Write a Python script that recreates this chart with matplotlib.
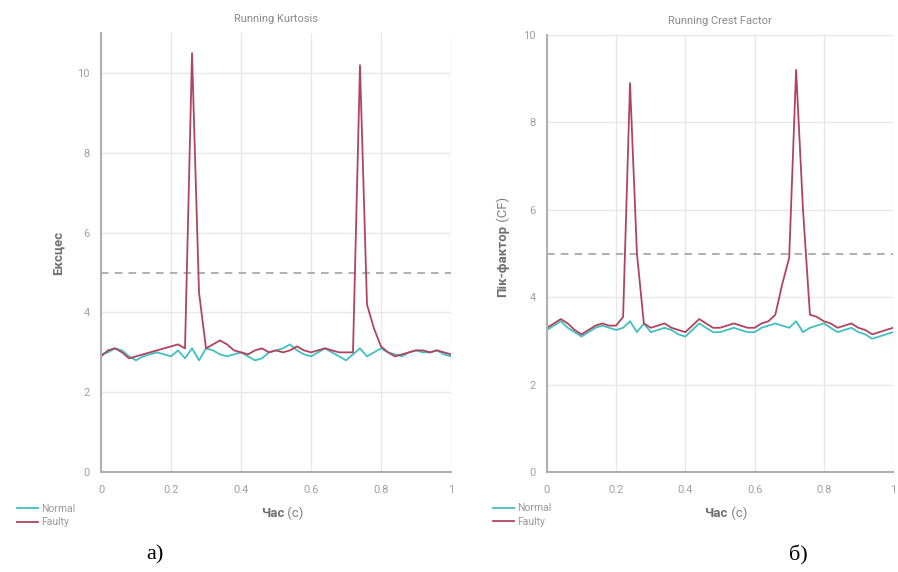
import numpy as np
import matplotlib
matplotlib.use('Agg')
import matplotlib.pyplot as plt

plt.rcParams['font.family'] = ['Roboto', 'DejaVu Sans']

# time axis (s)
t = np.linspace(0, 1, 51)

# Running kurtosis
kurt_normal = [2.95, 3.0, 3.1, 3.05, 2.9, 2.8, 2.9, 2.95, 3.0, 2.95,
               2.9, 3.05, 2.85, 3.1, 2.8, 3.1, 3.05, 2.95, 2.9, 2.95,
               3.0, 2.9, 2.8, 2.85, 3.0, 3.05, 3.1, 3.2, 3.05, 2.95,
               2.9, 3.0, 3.1, 3.0, 2.9, 2.8, 2.95, 3.1, 2.9, 3.0,
               3.1, 3.0, 2.95, 2.9, 3.0, 3.05, 3.0, 3.0, 3.05, 2.95,
               2.9]
kurt_faulty = [2.9, 3.05, 3.1, 3.0, 2.85, 2.9, 2.95, 3.0, 3.05, 3.1,
               3.15, 3.2, 3.1, 10.5, 4.5, 3.1, 3.2, 3.3, 3.2, 3.05,
               3.0, 2.95, 3.05, 3.1, 3.0, 3.05, 3.0, 3.05, 3.15, 3.05,
               3.0, 3.05, 3.1, 3.05, 3.0, 3.0, 3.0, 10.2, 4.2, 3.6,
               3.15, 3.0, 2.9, 2.95, 3.0, 3.05, 3.05, 3.0, 3.05, 3.0,
               2.95]

# Running crest factor
cf_normal = [3.25, 3.35, 3.45, 3.3, 3.2, 3.1, 3.2, 3.3, 3.35, 3.3,
             3.25, 3.3, 3.45, 3.2, 3.4, 3.2, 3.25, 3.3, 3.25, 3.15,
             3.1, 3.25, 3.4, 3.3, 3.2, 3.2, 3.25, 3.3, 3.25, 3.2,
             3.2, 3.3, 3.35, 3.4, 3.35, 3.3, 3.45, 3.2, 3.3, 3.35,
             3.4, 3.3, 3.2, 3.25, 3.3, 3.2, 3.15, 3.05, 3.1, 3.15,
             3.2]
cf_faulty = [3.3, 3.4, 3.5, 3.4, 3.25, 3.15, 3.25, 3.35, 3.4, 3.35,
             3.35, 3.55, 8.9, 5.0, 3.4, 3.3, 3.35, 3.4, 3.3, 3.25,
             3.2, 3.35, 3.5, 3.4, 3.3, 3.3, 3.35, 3.4, 3.35, 3.3,
             3.3, 3.4, 3.45, 3.6, 4.3, 4.9, 9.2, 6.0, 3.6, 3.55,
             3.45, 3.4, 3.3, 3.35, 3.4, 3.3, 3.25, 3.15, 3.2, 3.25,
             3.3]

threshold = 5
c_normal = '#40c0c2'
c_faulty = '#b0445e'

fig = plt.figure(figsize=(8.98, 5.72), dpi=100)
ax1 = fig.add_axes([0.1125, 0.1748, 0.3897, 0.767])
ax2 = fig.add_axes([0.6091, 0.1748, 0.3853, 0.764])


def style(ax, ymax, title):
    ax.set_xlim(0, 1)
    ax.set_ylim(0, ymax)
    ax.set_xticks([0, 0.2, 0.4, 0.6, 0.8, 1])
    ax.set_xticklabels(['0', '0.2', '0.4', '0.6', '0.8', '1'])
    ax.set_yticks([0, 2, 4, 6, 8, 10])
    ax.grid(True, color='#e8e8e8', linewidth=1)
    ax.set_axisbelow(True)
    for s in ['top', 'right']:
        ax.spines[s].set_visible(False)
    for s in ['left', 'bottom']:
        ax.spines[s].set_color('#b0b0b0')
        ax.spines[s].set_linewidth(1.5)
    ax.tick_params(length=0, labelsize=8, colors='#a0a0a0')
    ax.tick_params(axis='x', pad=9)
    ax.tick_params(axis='y', pad=8)
    ax.set_title(title, fontsize=8, color='#8a8a8a', pad=8)
    ax.axhline(threshold, color='#9a9a9a', linestyle=(0, (5, 4)), linewidth=1.1)
    ax.text(0.523, -0.095, 'Час', transform=ax.transAxes, ha='right', va='center',
            fontsize=9.5, fontweight='bold', color='#707070')
    ax.text(0.523, -0.095, ' (с)', transform=ax.transAxes, ha='left', va='center',
            fontsize=9.5, color='#808080')


style(ax1, 11, 'Running Kurtosis')
style(ax2, 10, 'Running Crest Factor')

ax1.plot(t, kurt_normal, color=c_normal, linewidth=1.3, label='Normal')
ax1.plot(t, kurt_faulty, color=c_faulty, linewidth=1.3, label='Faulty')
ax2.plot(t, cf_normal, color=c_normal, linewidth=1.3, label='Normal')
ax2.plot(t, cf_faulty, color=c_faulty, linewidth=1.3, label='Faulty')

ax1.text(-0.123, 0.5, 'Ексцес', transform=ax1.transAxes, rotation=90,
         ha='center', va='center', fontsize=9.5, fontweight='bold', color='#707070')
ax2.text(-0.127, 0.565, 'Пік-фактор', transform=ax2.transAxes, rotation=90,
         ha='center', va='top', fontsize=9.5, fontweight='bold', color='#707070')
ax2.text(-0.127, 0.565, ' (CF)', transform=ax2.transAxes, rotation=90,
         ha='center', va='bottom', fontsize=9.5, color='#808080')

for ax, x0 in [(ax1, -0.254), (ax2, -0.17)]:
    ax.legend(loc='upper left', bbox_to_anchor=(x0, -0.06), frameon=False,
              fontsize=7.5, handlelength=2.0, handletextpad=0.3,
              labelspacing=0.35, borderpad=0, labelcolor='#999999')

fig.text(155 / 898, 1 - 555 / 572, 'a)', family='Liberation Serif',
         fontsize=16, ha='center', va='center', color='black')
fig.text(798 / 898, 1 - 555 / 572, 'б)', family='Liberation Serif',
         fontsize=16, ha='center', va='center', color='black')

fig.savefig('out.png', dpi=100)
